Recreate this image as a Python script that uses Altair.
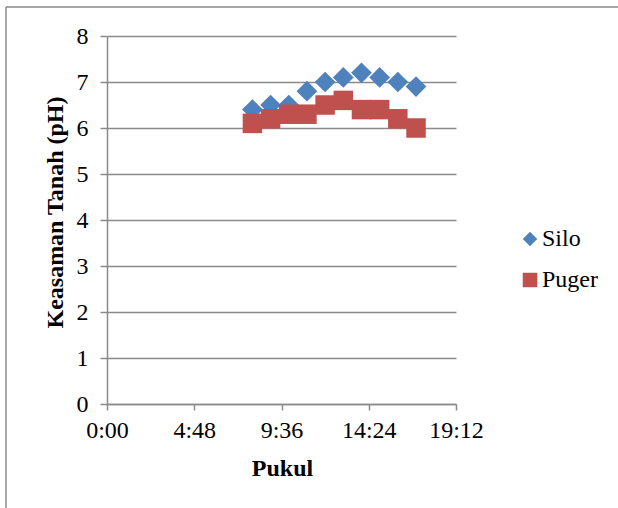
import altair as alt
import pandas as pd

# ---- data ----
hours = [8, 9, 10, 11, 12, 13, 14, 15, 16, 17]
silo = [6.4, 6.5, 6.5, 6.8, 7.0, 7.1, 7.2, 7.1, 7.0, 6.9]
puger = [6.1, 6.2, 6.3, 6.3, 6.5, 6.6, 6.4, 6.4, 6.2, 6.0]
series = ["Silo", "Puger"]
colors = ["#4F81BD", "#C0504D"]
shapes = ["diamond", "square"]
x_ticks = [0, 4.8, 9.6, 14.4, 19.2]
y_ticks = [0, 1, 2, 3, 4, 5, 6, 7, 8]

df = pd.DataFrame({
    "Pukul": hours + hours,
    "pH": silo + puger,
    "Lokasi": ["Silo"] * len(hours) + ["Puger"] * len(hours),
})

FONT = "Liberation Serif"
GRAY = "#8a8a8a"
W, H = 349, 368
PAD = {"left": 107, "top": 36, "right": 162, "bottom": 104}

time_label = ("floor(datum.value + 0.001) + ':' + "
              "(round((datum.value - floor(datum.value + 0.001)) * 60) < 10 ? '0' : '') + "
              "round((datum.value - floor(datum.value + 0.001)) * 60)")

x_enc = alt.X(
    "Pukul:Q",
    scale=alt.Scale(domain=[0, 19.2], nice=False, zero=False),
    axis=alt.Axis(
        values=x_ticks, grid=False, labelExpr=time_label, labelFlush=False,
        domainColor=GRAY, domainWidth=1.5, tickColor=GRAY, tickWidth=1.5, tickSize=6,
        labelFont=FONT, labelFontSize=24, labelColor="black",
        labelBaseline="alphabetic", labelPadding=27,
        title="Pukul", titleFont=FONT, titleFontSize=24, titleFontWeight="bold",
        titleColor="black", titleX=175, titleY=71, titleAlign="center",
        titleBaseline="alphabetic",
    ),
)
y_enc = alt.Y(
    "pH:Q",
    scale=alt.Scale(domain=[0, 8], nice=False),
    axis=alt.Axis(
        values=y_ticks, format="d", grid=True, gridColor=GRAY, gridWidth=1.5,
        domainColor=GRAY, domainWidth=1.5, tickColor=GRAY, tickWidth=1.5, tickSize=7,
        labelFont=FONT, labelFontSize=24, labelColor="black", labelPadding=12,
        labelFlush=False,
        title="Keasaman Tanah (pH)", titleFont=FONT, titleFontSize=24,
        titleFontWeight="bold", titleColor="black", titleAngle=270,
        titleX=-45, titleY=176, titleAlign="center", titleBaseline="alphabetic",
    ),
)
legend = alt.Legend(
    title=None, orient="none", legendX=411, legendY=191, padding=0,
    symbolSize=210, symbolStrokeWidth=0, labelFont=FONT, labelFontSize=24,
    labelColor="black", rowPadding=17, labelOffset=0,
)
color_enc = alt.Color("Lokasi:N", scale=alt.Scale(domain=series, range=colors), legend=legend)
shape_enc = alt.Shape("Lokasi:N", scale=alt.Scale(domain=series, range=shapes), legend=legend)

base = alt.Chart(df)
silo_layer = base.transform_filter(alt.datum.Lokasi == "Silo").mark_point(
    filled=True, opacity=1, size=430, strokeWidth=0
).encode(x=x_enc, y=y_enc, color=color_enc, shape=shape_enc)
puger_layer = base.transform_filter(alt.datum.Lokasi == "Puger").mark_point(
    filled=True, opacity=1, size=380, strokeWidth=0
).encode(x=x_enc, y=y_enc, color=color_enc, shape=shape_enc)

frame = pd.DataFrame({"k": [0]})
border_top = alt.Chart(frame).mark_rule(color=GRAY, strokeWidth=1.5).encode(
    x=alt.value(-101), x2=alt.value(511), y=alt.value(-29)
)
border_left = alt.Chart(frame).mark_rule(color=GRAY, strokeWidth=1.5).encode(
    x=alt.value(-101), y=alt.value(-29), y2=alt.value(472)
)

chart = alt.layer(border_top, border_left, silo_layer, puger_layer).properties(
    width=W, height=H, padding=PAD,
    autosize=alt.AutoSizeParams(type="none"),
    background="white",
).configure_view(strokeWidth=0)

chart.save("out.html", embed_options={"renderer": "svg", "actions": False})
